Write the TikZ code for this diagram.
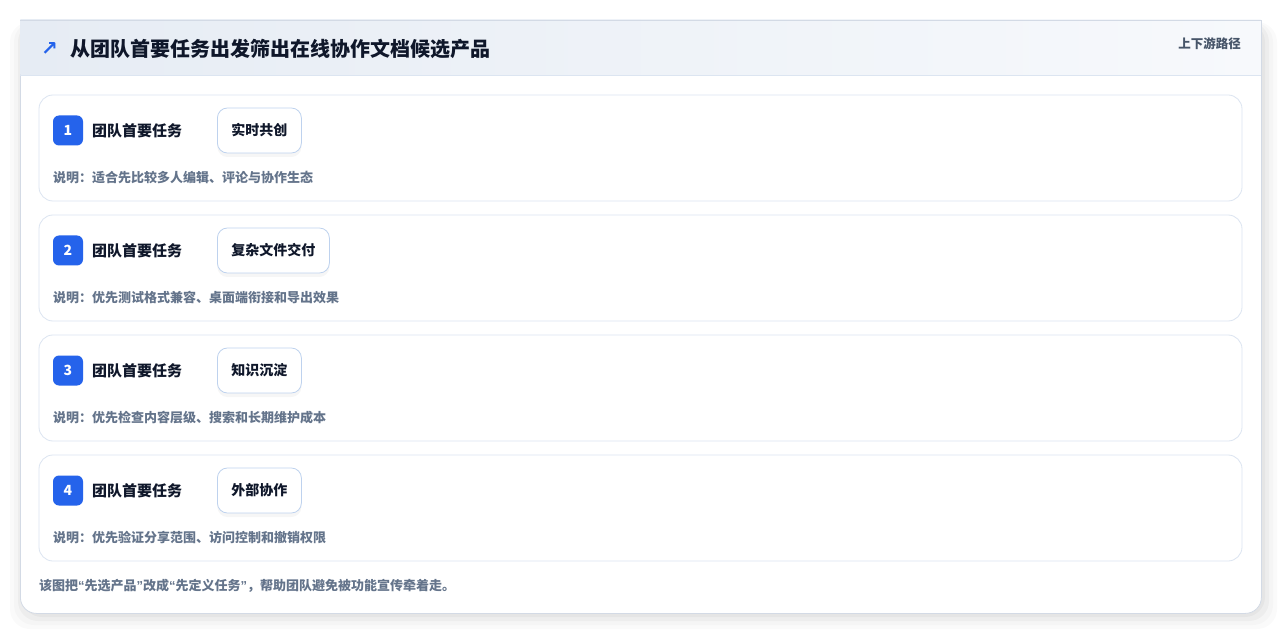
\documentclass[tikz,border=0pt]{standalone}
\usepackage{fontspec}
\setmainfont{Noto Sans CJK SC}
\newfontfamily\symfont{DejaVu Sans}
\newfontfamily\quotefont{Liberation Sans}
\newcommand{\myLQ}{{\quotefont “}}
\newcommand{\myRQ}{{\quotefont ”}}
\definecolor{cardBorder}{HTML}{D3DAE5}
\definecolor{headA}{HTML}{E6ECF4}
\definecolor{headB}{HTML}{F7F9FC}
\definecolor{rowBorder}{HTML}{DCE5F1}
\definecolor{chipBorder}{HTML}{BED2EE}
\definecolor{badgeBlue}{HTML}{2563EB}
\definecolor{titleInk}{HTML}{0F172A}
\definecolor{mutedInk}{HTML}{64748B}
\definecolor{slateInk}{HTML}{475569}
\tikzset{
  rowbox/.style={draw=rowBorder, line width=0.8pt, fill=white, rounded corners=14pt},
  badge/.style={fill=badgeBlue, rounded corners=6pt, minimum width=30pt, minimum height=30pt, inner sep=0pt, text=white, font=\fontsize{14}{14}\selectfont\bfseries},
  tasklabel/.style={anchor=west, inner sep=0pt, text=titleInk, font=\fontsize{15}{15}\selectfont\bfseries},
  chip/.style={draw=chipBorder, line width=0.8pt, fill=white, rounded corners=10pt, minimum height=45pt, inner xsep=14pt, text=titleInk, font=\fontsize{14}{14}\selectfont\bfseries,
    preaction={draw=none, fill=black, fill opacity=0.035, transform canvas={yshift=-4pt}}},
  desc/.style={anchor=west, inner sep=0pt, text=mutedInk, font=\fontsize{13}{13}\selectfont\bfseries},
}
\begin{document}
\begin{tikzpicture}[x=1pt,y=-1pt]
\useasboundingbox (0,0) rectangle (1282,636);
\fill[white] (0,0) rectangle (1282,636);
% outer shadow
\foreach \i/\o in {16/2,12/2,8/3,4/3}{
  \fill[black, opacity=0.0\o, rounded corners=20pt] (20-\i+6,22) rectangle (1261+\i,613+\i);
}
\fill[white] (0,0) rectangle (1282,20);
% card
\node[draw=cardBorder, line width=0.8pt, fill=white, rounded corners=16pt, minimum width=1241pt, minimum height=610pt, anchor=north west, inner sep=0pt] (card) at (20,3) {};
\fill[white] (0,0) rectangle (1282,20);
\shade[left color=headA, right color=headB] (20.4,20) rectangle (1260.6,75);
\draw[cardBorder, line width=0.8pt] (20.4,20) -- (1260.6,20);
\draw[rowBorder, line width=0.8pt] (20.4,75) -- (1260.6,75);
\node[anchor=west, inner sep=0pt, text=badgeBlue, font=\symfont\fontsize{20}{20}\selectfont\bfseries] (icon) at (41,49) {↗};
\node[anchor=west, inner sep=0pt, text=titleInk, font=\fontsize{20}{20}\selectfont\bfseries] (title) at (70,49) {从团队首要任务出发筛出在线协作文档候选产品};
\node[anchor=east, inner sep=0pt, text=slateInk, font=\fontsize{12.5}{12.5}\selectfont\bfseries] (path) at (1241,44) {上下游路径};
% rows
\foreach \n/\y/\chiptext/\desctext in {
  1/95/实时共创/说明：适合先比较多人编辑、评论与协作生态,
  2/215/复杂文件交付/说明：优先测试格式兼容、桌面端衔接和导出效果,
  3/335/知识沉淀/说明：优先检查内容层级、搜索和长期维护成本,
  4/455/外部协作/说明：优先验证分享范围、访问控制和撤销权限}{
  \draw[rowbox] (39,\y) rectangle (1242,\y+106);
  \node[badge] (b\n) at (68,\y+35.5) {\n};
  \node[tasklabel] (t\n) at (92,\y+36) {团队首要任务};
  \node[chip, anchor=west] (c\n) at (217,\y+35.5) {\chiptext};
  \node[desc] (d\n) at (53,\y+83) {\desctext};
}
\node[anchor=west, inner sep=0pt, text=mutedInk, font=\fontsize{13}{13}\selectfont\bfseries] (foot) at (39,586) {该图把\myLQ 先选产品\myRQ 改成\myLQ 先定义任务\myRQ ，帮助团队避免被功能宣传牵着走。};
\end{tikzpicture}
\end{document}
